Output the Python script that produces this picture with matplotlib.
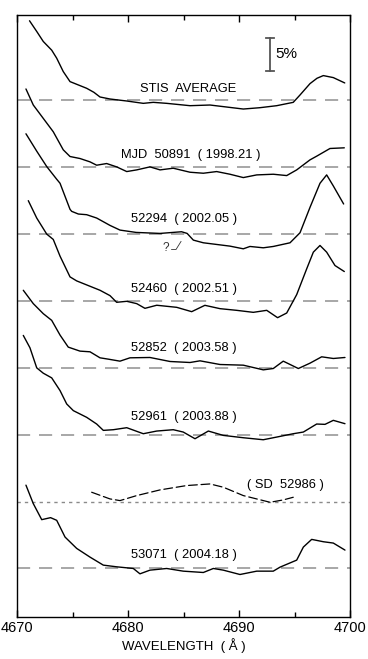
import matplotlib
matplotlib.use("Agg")
import matplotlib.pyplot as plt
from matplotlib.ticker import MultipleLocator

# ---------------- data (percent relative to each baseline) ----------------
offsets = [0, -10, -20, -30, -40, -50, -60, -70]

stis_w = [4671.1, 4671.75, 4672.34, 4673.1, 4673.55, 4674.14, 4674.75, 4675.65, 4676.25, 4676.9,
          4677.45, 4678.35, 4679.86, 4681.35, 4682.25, 4683.46, 4685.56, 4687.36, 4688.86, 4690.36,
          4691.86, 4693.37, 4694.86, 4695.47, 4696.37, 4697.0, 4697.57, 4698.47, 4699.5]
stis_p = [11.9, 10.3, 8.8, 7.5, 6.3, 4.3, 2.8, 2.2, 1.8, 1.2,
          0.5, 0.2, -0.1, -0.45, -0.3, -0.45, -0.8, -0.7, -1.0, -1.3,
          -1.1, -0.8, -0.3, 0.8, 2.5, 3.3, 3.7, 3.4, 2.6]

mjd50891_w = [4670.78, 4671.44, 4672.34, 4673.24, 4674.14, 4674.75, 4675.65, 4676.55, 4677.15, 4678.05,
              4678.95, 4679.86, 4680.76, 4681.95, 4682.86, 4684.05, 4685.56, 4686.76, 4687.96, 4689.16,
              4690.36, 4691.57, 4693.06, 4694.27, 4695.17, 4696.37, 4696.97, 4698.17, 4699.46]
mjd50891_p = [11.7, 9.3, 7.3, 5.3, 2.6, 1.6, 1.3, 0.8, 0.3, 0.55,
              0.05, -0.65, -0.4, 0.05, -0.4, -0.15, -0.75, -0.9, -0.65, -1.05,
              -1.55, -1.15, -1.05, -1.25, -0.4, 1.1, 1.65, 2.8, 2.9]

mjd52294_w = [4670.78, 4671.75, 4672.65, 4673.55, 4673.85, 4674.75, 4674.9, 4675.5, 4676.25, 4677.15,
              4678.35, 4679.25, 4680.7, 4682.86, 4684.8, 4685.3, 4685.86, 4686.76, 4687.96, 4689.16,
              4690.36, 4690.96, 4692.16, 4693.06, 4694.57, 4695.47, 4696.37, 4697.27, 4697.87, 4698.47,
              4699.4]
mjd52294_p = [15.0, 12.4, 10.1, 8.2, 7.6, 3.7, 3.4, 3.0, 2.9, 2.4,
              1.3, 0.6, 0.25, 0.1, 0.35, 0.1, -0.9, -1.3, -1.55, -1.8,
              -2.2, -1.85, -2.05, -1.85, -1.3, 0.2, 4.0, 7.6, 8.85, 7.2,
              4.5]

mjd52460_w = [4670.99, 4671.75, 4672.65, 4673.24, 4673.85, 4674.75, 4675.35, 4676.55, 4677.45, 4678.35,
              4678.95, 4679.86, 4680.76, 4681.5, 4682.56, 4684.36, 4685.71, 4686.9, 4688.26, 4689.76,
              4691.26, 4692.47, 4693.45, 4694.27, 4695.17, 4696.07, 4696.67, 4697.27, 4697.87, 4698.62,
              4699.46]
mjd52460_p = [15.0, 12.4, 10.0, 9.2, 6.7, 3.6, 3.0, 2.2, 1.6, 0.8,
              -0.2, -0.05, -0.4, -1.1, -0.64, -0.95, -1.6, -0.65, -1.15, -1.4,
              -1.7, -1.4, -2.5, -1.8, 0.95, 4.8, 7.3, 8.3, 7.3, 5.3,
              4.4]

mjd52852_w = [4670.54, 4671.44, 4672.34, 4673.1, 4673.85, 4674.59, 4675.65, 4676.55, 4677.45, 4678.2,
              4679.25, 4680.15, 4681.95, 4683.76, 4685.56, 4686.46, 4688.26, 4690.36, 4692.16, 4693.06,
              4693.96, 4695.32, 4696.37, 4697.42, 4698.47, 4699.52]
mjd52852_p = [11.6, 9.6, 8.1, 7.1, 4.9, 3.1, 2.5, 2.4, 1.5, 1.3,
              1.0, 1.5, 1.55, 0.95, 0.8, 1.05, 0.5, 0.4, -0.3, -0.1,
              1.0, -0.1, 0.7, 1.65, 1.4, 1.55]

mjd52961_w = [4670.54, 4671.14, 4671.75, 4672.34, 4673.1, 4673.85, 4674.45, 4675.05, 4676.25, 4677.15,
              4677.75, 4678.65, 4679.86, 4681.35, 4682.56, 4684.05, 4684.95, 4686.01, 4687.21, 4688.56,
              4690.36, 4692.16, 4693.37, 4694.86, 4695.77, 4696.97, 4697.72, 4698.47, 4699.52]
mjd52961_p = [14.85, 13.0, 10.0, 9.2, 8.5, 6.6, 4.6, 3.6, 2.6, 1.6,
              0.65, 0.75, 1.05, 0.15, 0.55, 0.75, 0.4, -0.6, 0.55, -0.1,
              -0.45, -0.75, -0.35, 0.15, 0.4, 1.6, 1.55, 2.15, 1.65]

sd52986_w = [4676.7, 4678.35, 4679.25, 4680.76, 4682.86, 4685.26, 4687.36, 4688.56, 4690.36, 4692.77,
             4693.96, 4694.86]
sd52986_p = [1.4, 0.4, 0.15, 0.9, 1.75, 2.4, 2.64, 2.15, 0.9, -0.1,
             0.25, 0.65]

mjd53071_w = [4670.78, 4671.44, 4672.2, 4673.0, 4673.55, 4674.3, 4675.35, 4676.55, 4677.75, 4678.95,
              4680.45, 4681.05, 4681.95, 4683.46, 4684.95, 4686.76, 4687.66, 4688.56, 4690.06, 4691.57,
              4693.06, 4693.67, 4695.17, 4695.77, 4696.52, 4697.57, 4698.47, 4699.52]
mjd53071_p = [12.46, 9.7, 7.3, 7.6, 7.2, 4.7, 3.0, 1.7, 0.5, 0.25,
              0.0, -0.8, -0.25, 0.0, -0.4, -0.6, 0.0, -0.25, -0.9, -0.4,
              -0.4, 0.2, 1.25, 3.2, 4.35, 4.0, 3.8, 2.75]

labels = ["STIS  AVERAGE", "MJD  50891  ( 1998.21 )", "52294  ( 2002.05 )", "52460  ( 2002.51 )",
          "52852  ( 2003.58 )", "52961  ( 2003.88 )", "( SD  52986 )", "53071  ( 2004.18 )"]
label_x = [4685.4, 4685.6, 4685.0, 4685.0, 4685.0, 4685.0, 4694.2, 4685.0]
label_dy = [1.7, 1.8, 2.2, 1.75, 2.95, 2.6, 2.55, 2.0]

x_ticks = [4670, 4680, 4690, 4700]

# ---------------- figure ----------------
fig = plt.figure(figsize=(3.68, 6.59), dpi=100)
ax = fig.add_axes([17.3 / 368, (659 - 617.3) / 659, (350.3 - 17.3) / 368, (617.3 - 15) / 659])
plt.rcParams['font.family'] = ['Liberation Sans', 'DejaVu Sans']
fam = ['Liberation Sans', 'DejaVu Sans']

series = [(stis_w, stis_p), (mjd50891_w, mjd50891_p), (mjd52294_w, mjd52294_p),
          (mjd52460_w, mjd52460_p), (mjd52852_w, mjd52852_p), (mjd52961_w, mjd52961_p),
          (sd52986_w, sd52986_p), (mjd53071_w, mjd53071_p)]

for i, ((w, p), off) in enumerate(zip(series, offsets)):
    if i == 6:
        ax.axhline(off, color='#8a8a8a', lw=1.0, dashes=(2.4, 2.9), zorder=1)
        ax.plot(w, [v + off for v in p], color='black', lw=0.9, dashes=(7, 3), zorder=2,
                dash_joinstyle='round', dash_capstyle='round')
    else:
        ax.axhline(off, color='#8f8f8f', lw=1.1, dashes=(8.6, 5.8), zorder=1)
        ax.plot(w, [v + off for v in p], color='black', lw=1.0, zorder=2,
                solid_joinstyle='round', solid_capstyle='round')
    ax.text(label_x[i], off + label_dy[i], labels[i], ha='center', va='center',
            fontsize=9.3, family=fam)

# question mark annotation on 52294
ax.text(4683.35, -22.1, "?", ha='center', va='center', fontsize=8.5, color='#333333', family=fam)
ax.plot([4683.9, 4684.3, 4684.75], [-22.3, -22.3, -21.1], color='#333333', lw=0.6)

# 5% scale bar
bx = 4692.77
ax.plot([bx, bx], [4.36, 9.36], color='#555555', lw=1.3)
ax.plot([bx - 0.4, bx + 0.4], [9.36, 9.36], color='#555555', lw=1.3)
ax.plot([bx - 0.4, bx + 0.4], [4.36, 4.36], color='#555555', lw=1.3)
ax.text(bx + 0.45, 6.86, "5%", ha='left', va='center', fontsize=11, family=fam)

ax.set_xlim(4670, 4700)
ax.set_ylim(-77.3, 12.76)
ax.set_yticks([])
ax.set_xticks(x_ticks)
ax.set_xticklabels([str(t) for t in x_ticks], fontsize=10.5, family=fam)
ax.xaxis.set_minor_locator(MultipleLocator(5))
ax.tick_params(axis='x', which='major', direction='in', length=5, width=1.0, top=True, pad=3)
ax.tick_params(axis='x', which='minor', direction='in', length=3.5, width=1.0, top=True)
for s in ax.spines.values():
    s.set_linewidth(1.0)
ax.set_xlabel("WAVELENGTH  ( Å )", fontsize=9.5, family=fam, labelpad=2)

fig.savefig("out.png", dpi=100)
